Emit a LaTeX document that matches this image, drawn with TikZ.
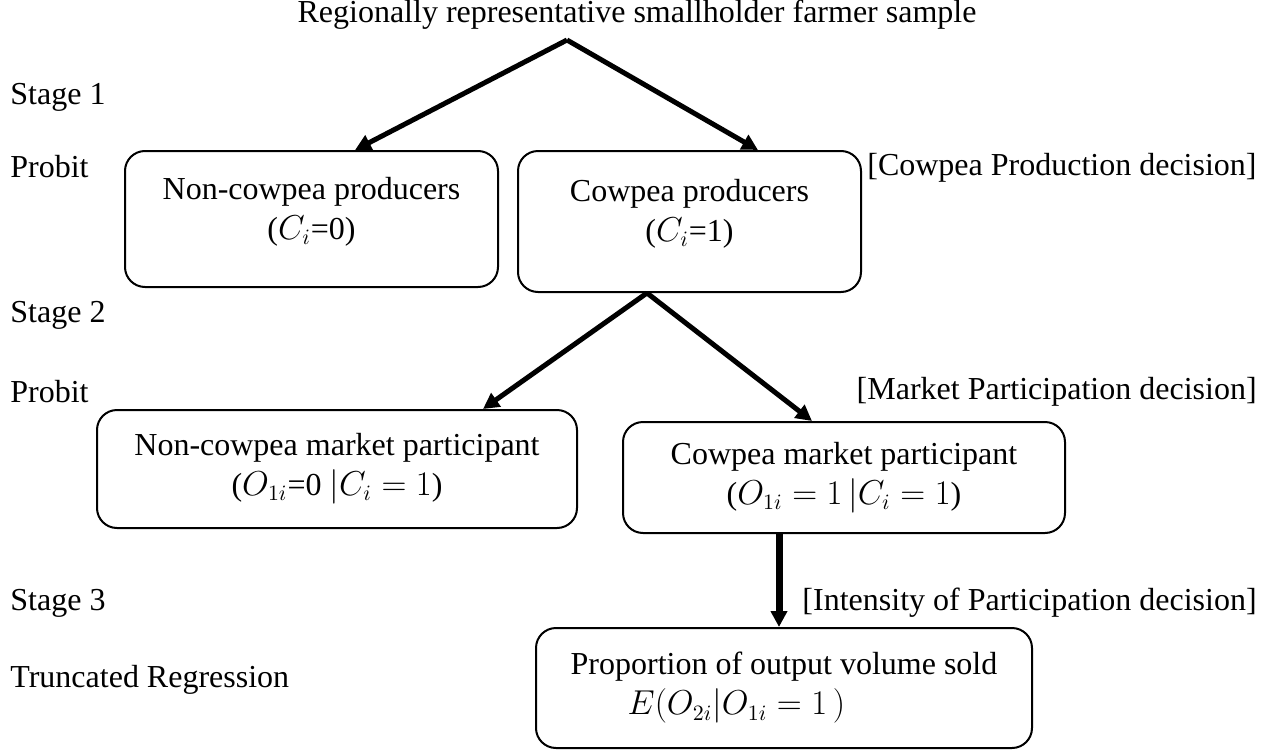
\documentclass[tikz,border=0pt]{standalone}
\usepackage{fontspec}
\setmainfont{Liberation Serif}
\usetikzlibrary{arrows.meta}

\begin{document}
\begin{tikzpicture}[x=0.5pt, y=-0.5pt,
    box/.style={draw, line width=1pt, rounded corners=10pt, align=center,
        inner sep=0pt, font=\fontsize{16}{20}\selectfont},
    lbl/.style={inner sep=0pt, font=\fontsize{16}{20}\selectfont},
    flow/.style={line width=2.5pt, -{Triangle[length=8pt, width=8pt]}}]
    \useasboundingbox (0,0) rectangle (1271,750);

    % sample and split point
    \node[lbl] (sample) at (637,15) {Regionally representative smallholder farmer sample};
    \coordinate (fork) at (567,40);

    % stage labels on the left
    \node[lbl, anchor=west] (st1) at (10,97)  {Stage 1};
    \node[lbl, anchor=west] (pr1) at (10,167) {Probit};
    \node[lbl, anchor=west] (st2) at (10,315) {Stage 2};
    \node[lbl, anchor=west] (pr2) at (10,392) {Probit};
    \node[lbl, anchor=west] (st3) at (10,603) {Stage 3};
    \node[lbl, anchor=west] (trr) at (10,680) {Truncated Regression};

    % decision labels on the right
    \node[lbl, anchor=east] (dec1) at (1257,168) {[Cowpea Production decision]};
    \node[lbl, anchor=east] (dec2) at (1257,392) {[Market Participation decision]};
    \node[lbl, anchor=east] (dec3) at (1257,603) {[Intensity of Participation decision]};

    % stage 1 boxes
    \node[box, text depth=11pt, minimum width=186.5pt, minimum height=68pt] (noncp) at (311.5,219)
        {Non-cowpea producers\\($C_i$=0)};
    \node[box, text depth=11pt, minimum width=171.5pt, minimum height=70.5pt] (cp) at (689.5,221.5)
        {Cowpea producers\\($C_i$=1)};

    % stage 2 boxes
    \node[box, minimum width=240pt, minimum height=59pt] (noncpm) at (337,469)
        {Non-cowpea market participant\\($O_{1i}$=0 $|C_i = 1$)};
    \node[box, minimum width=221pt, minimum height=55.5pt] (cpm) at (844,477.5)
        {Cowpea market participant\\($O_{1i} = 1\,|C_i = 1$)};

    % stage 3 box
    \node[box, align=left, minimum width=248pt, minimum height=60pt] (prop) at (784,688)
        {Proportion of output volume sold\\\hspace*{28.5pt}$E(O_{2i}|O_{1i} = 1\,)$};

    % connectors
    \draw[flow] (fork) -- ([xshift=21.75pt]noncp.north);
    \draw[flow] (fork) -- ([xshift=34.25pt]cp.north);
    \draw[flow] ([xshift=-21.25pt]cp.south) -- ([xshift=73pt]noncpm.north);
    \draw[flow] ([xshift=-21.25pt]cp.south) -- ([xshift=-16pt]cpm.north);
    \draw[flow, line width=3.5pt] ([xshift=-32.5pt]cpm.south) -- ([xshift=-32.5pt]cpm.south |- prop.north);
\end{tikzpicture}
\end{document}
